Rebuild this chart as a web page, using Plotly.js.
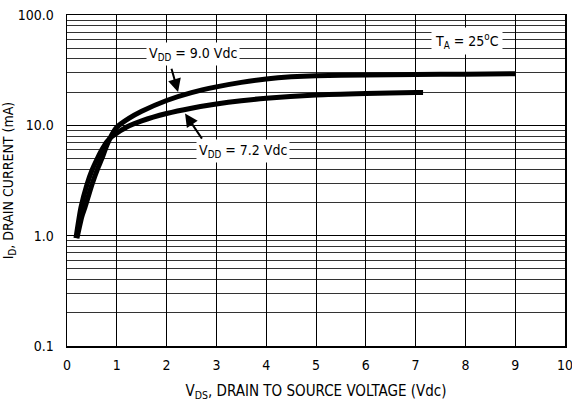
<!DOCTYPE html>
<html>
<head>
<meta charset="utf-8">
<script src="https://cdn.plot.ly/plotly-3.0.1.min.js"></script>
<style>html,body{margin:0;padding:0;background:#fff;}#chart{width:572px;height:403px;}</style>
</head>
<body>
<div id="chart"></div>
<script>
// V_DS (Vdc) and I_D (mA) for each supply voltage
const vds_9v0 = [0.2, 0.3, 0.36, 0.5, 0.62, 0.7, 0.8, 0.9, 1.0, 1.25, 1.5, 2.0, 2.5, 3.0, 3.5, 4.0, 4.5, 5.0, 6.0, 7.0, 8.0, 9.0];
const id_9v0  = [0.95, 1.5, 1.8, 2.9, 4.1, 5.0, 6.6, 8.2, 9.6, 11.6, 13.4, 16.8, 19.8, 22.3, 24.5, 26.3, 27.5, 28.2, 28.6, 28.9, 29.1, 29.3];
const vds_7v2 = [0.18, 0.28, 0.4, 0.5, 0.6, 0.7, 0.8, 0.9, 1.0, 1.25, 1.5, 2.0, 2.5, 3.0, 3.5, 4.0, 5.0, 6.0, 7.0, 7.15];
const id_7v2  = [0.95, 1.8, 2.9, 3.9, 4.9, 6.0, 7.1, 7.9, 8.5, 9.9, 11.0, 12.8, 14.3, 15.6, 16.7, 17.6, 18.8, 19.4, 19.8, 19.8];

const xTicks = [0, 1, 2, 3, 4, 5, 6, 7, 8, 9, 10];
const yTickVals = [0.1, 1, 10, 100];
const yTickText = ["0.1", "1.0", "10.0", "100.0"];

const FONT = "DejaVu Sans Condensed";
const lineStyle = {color: "#000", width: 5, shape: "spline", smoothing: 0.6};

const traces = [
  {x: vds_9v0, y: id_9v0, mode: "lines", line: lineStyle, name: "VDD = 9.0 Vdc", hoverinfo: "x+y"},
  {x: vds_7v2, y: id_7v2, mode: "lines", line: lineStyle, name: "VDD = 7.2 Vdc", hoverinfo: "x+y"}
];

const layout = {
  width: 572, height: 403,
  margin: {l: 67, r: 7, t: 15, b: 57},
  paper_bgcolor: "#fff", plot_bgcolor: "#fff",
  showlegend: false,
  font: {family: FONT, size: 13, color: "#000"},
  xaxis: {
    range: [0, 10], tickvals: xTicks, ticktext: xTicks.map(String),
    showgrid: true, gridcolor: "#000", gridwidth: 1,
    showline: true, linecolor: "#000", linewidth: 1.5, mirror: true,
    ticks: "", ticklabelstandoff: 6, ticklabeloverflow: "allow", zeroline: false,
    tickfont: {family: FONT, size: 14},
    title: {text: "V<sub>DS</sub>, DRAIN TO SOURCE VOLTAGE (Vdc)", font: {family: FONT, size: 15}, standoff: 13}
  },
  yaxis: {
    type: "log", range: [-1, 2],
    tickvals: yTickVals, ticktext: yTickText,
    showgrid: true, gridcolor: "#000", gridwidth: 1,
    minor: {dtick: "D1", showgrid: true, gridcolor: "#333", gridwidth: 1, ticks: ""},
    showline: true, linecolor: "#000", linewidth: 1.5, mirror: true,
    ticks: "", ticklabelstandoff: 9, zeroline: false,
    tickfont: {family: FONT, size: 14},
    title: {text: "I<sub>D</sub>, DRAIN CURRENT (mA)", font: {family: FONT, size: 14}, standoff: 3}
  },
  annotations: [
    {x: 2.53, y: Math.log10(44), xref: "x", yref: "y", text: "V<sub>DD</sub> = 9.0 Vdc", showarrow: false,
     bgcolor: "#fff", borderpad: 2, font: {family: FONT, size: 14}},
    {x: 2.23, y: Math.log10(20.1), xref: "x", yref: "y", ax: 2.09, ay: Math.log10(33.6), axref: "x", ayref: "y",
     text: "", showarrow: true, arrowhead: 2, arrowsize: 1.3, arrowwidth: 2, arrowcolor: "#000"},
    {x: 3.53, y: Math.log10(5.86), xref: "x", yref: "y", text: "V<sub>DD</sub> = 7.2 Vdc", showarrow: false,
     bgcolor: "#fff", borderpad: 2, font: {family: FONT, size: 14}},
    {x: 2.37, y: 1.107, xref: "x", yref: "y", ax: 2.73, ay: 0.866, axref: "x", ayref: "y",
     text: "", showarrow: true, arrowhead: 2, arrowsize: 1.3, arrowwidth: 2, arrowcolor: "#000"},
    {x: 8.03, y: 1.768, xref: "x", yref: "y", text: "T<sub>A</sub> = 25<sup>o</sup>C", showarrow: false,
     bgcolor: "#fff", borderpad: 3, font: {family: FONT, size: 14}}
  ]
};

Plotly.newPlot("chart", traces, layout, {staticPlot: true, displayModeBar: false});
</script>
</body>
</html>
